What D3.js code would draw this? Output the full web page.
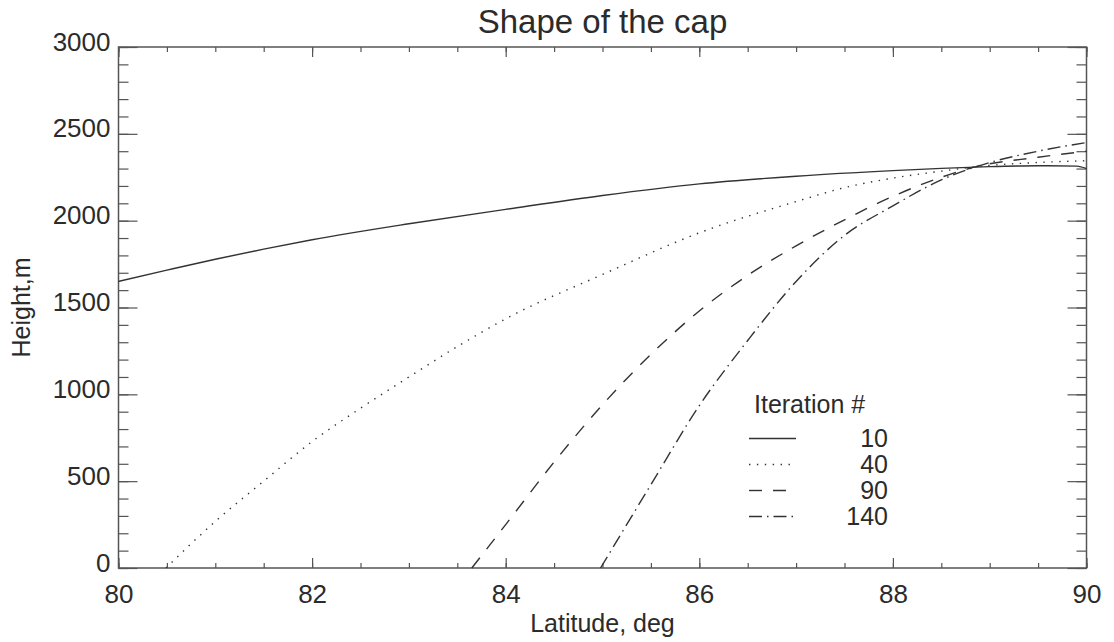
<!DOCTYPE html>
<html>
<head>
<meta charset="utf-8">
<script src="https://cdn.jsdelivr.net/npm/d3@7"></script>
<style>
  html, body { margin: 0; padding: 0; background: #fff; }
  svg { display: block; font-family: "Liberation Sans", Arial, Helvetica, sans-serif; }
</style>
</head>
<body>
<svg id="chart" width="1114" height="642"></svg>
<script>
// ---- data ----
const title = "Shape of the cap";
const xLabel = "Latitude, deg";
const yLabel = "Height,m";
const legendTitle = "Iteration #";
const iterations = ["10", "40", "90", "140"];

const lat10 = [80, 80.5, 81, 81.5, 82, 83, 84, 85, 86, 87, 88, 88.5, 89, 89.5, 89.9, 90];
const h10   = [1650, 1715, 1778, 1836, 1890, 1982, 2065, 2145, 2212, 2256, 2288, 2301, 2311, 2316, 2314, 2300];

const lat40 = [80.49, 81, 81.5, 82, 82.5, 83, 83.5, 84, 85, 86, 87, 87.5, 88, 88.5, 88.86, 89.5, 90];
const h40   = [0, 268, 500, 728, 920, 1100, 1275, 1435, 1690, 1930, 2110, 2190, 2245, 2285, 2311, 2335, 2345];

const lat90 = [83.65, 84, 84.5, 85, 85.5, 86, 86.5, 87, 87.5, 88, 88.5, 88.86, 89.5, 90];
const h90   = [0, 250, 610, 940, 1230, 1480, 1685, 1855, 2005, 2140, 2250, 2311, 2365, 2400];

const lat140 = [84.98, 85.5, 86, 86.5, 87, 87.5, 88, 88.5, 88.86, 89.5, 90];
const h140   = [0, 480, 935, 1310, 1650, 1915, 2085, 2235, 2311, 2400, 2450];

const xMajorTicks = [80, 82, 84, 86, 88, 90];
const yMajorTicks = [0, 500, 1000, 1500, 2000, 2500, 3000];

// ---- layout ----
const svg = d3.select("#chart");
const L = 118.5, R = 1086.5, T = 47, B = 568;
const x = d3.scaleLinear().domain([80, 90]).range([L, R]);
const y = d3.scaleLinear().domain([0, 3000]).range([B, T]);
const ink = "#2b2b2b";
const lineInk = "#333";

const xMinor = d3.range(80, 90.001, 0.5);
const yMinor = d3.range(0, 3000.001, 100);

// frame
svg.append("rect").attr("x", L).attr("y", T).attr("width", R - L).attr("height", B - T)
  .attr("fill", "none").attr("stroke", "#555").attr("stroke-width", 1.5);

function styleAxis(g) {
  g.select(".domain").remove();
  g.selectAll("line").attr("stroke", "#555").attr("stroke-width", 1.2);
  g.selectAll("text").attr("fill", ink).attr("font-size", 26);
}

// minor ticks
svg.append("g").attr("transform", `translate(0,${B})`)
  .call(d3.axisBottom(x).tickValues(xMinor).tickSize(-5).tickFormat(""))
  .call(styleAxis);
svg.append("g").attr("transform", `translate(0,${T})`)
  .call(d3.axisTop(x).tickValues(xMinor).tickSize(-5).tickFormat(""))
  .call(styleAxis);
svg.append("g").attr("transform", `translate(${L},0)`)
  .call(d3.axisLeft(y).tickValues(yMinor).tickSize(-10).tickFormat(""))
  .call(styleAxis);
svg.append("g").attr("transform", `translate(${R},0)`)
  .call(d3.axisRight(y).tickValues(yMinor).tickSize(-10).tickFormat(""))
  .call(styleAxis);

// major ticks
svg.append("g").attr("transform", `translate(0,${B})`)
  .call(d3.axisBottom(x).tickValues(xMajorTicks).tickSize(-10).tickPadding(17).tickFormat(d3.format("d")))
  .call(styleAxis);
svg.append("g").attr("transform", `translate(0,${T})`)
  .call(d3.axisTop(x).tickValues(xMajorTicks).tickSize(-10).tickFormat(""))
  .call(styleAxis);
svg.append("g").attr("transform", `translate(${L},0)`)
  .call(d3.axisLeft(y).tickValues(yMajorTicks).tickSize(-19).tickPadding(8).tickFormat(d3.format("d")))
  .call(styleAxis)
  .selectAll("text").attr("dy", "0.12em");
svg.append("g").attr("transform", `translate(${R},0)`)
  .call(d3.axisRight(y).tickValues(yMajorTicks).tickSize(-19).tickFormat(""))
  .call(styleAxis);

// titles
svg.append("text").attr("x", (L + R) / 2).attr("y", 33).attr("text-anchor", "middle")
  .attr("font-size", 33).attr("fill", ink).text(title);
svg.append("text").attr("x", (L + R) / 2).attr("y", 632).attr("text-anchor", "middle")
  .attr("font-size", 25).attr("fill", ink).text(xLabel);
svg.append("text").attr("transform", `translate(30,${(T + B) / 2}) rotate(-90)`)
  .attr("text-anchor", "middle").attr("font-size", 25).attr("fill", ink).text(yLabel);

// series
const dashes = [null, "1.4,6.5", "13,11", "13,5,1.5,5"];
const series = [
  { lat: lat10, h: h10 },
  { lat: lat40, h: h40 },
  { lat: lat90, h: h90 },
  { lat: lat140, h: h140 }
];
const line = d3.line().x(d => x(d[0])).y(d => y(d[1])).curve(d3.curveMonotoneX);
series.forEach((s, i) => {
  const pts = s.lat.map((v, k) => [v, s.h[k]]);
  svg.append("path").datum(pts).attr("d", line)
    .attr("fill", "none").attr("stroke", lineInk).attr("stroke-width", 1.4)
    .attr("stroke-dasharray", dashes[i]);
});

// legend
svg.append("text").attr("x", 754).attr("y", 413).attr("font-size", 25).attr("fill", ink).text(legendTitle);
const legY = [438.5, 464.5, 490.5, 516.5];
iterations.forEach((lab, i) => {
  svg.append("line").attr("x1", 749).attr("x2", 796).attr("y1", legY[i]).attr("y2", legY[i])
    .attr("stroke", lineInk).attr("stroke-width", 1.4).attr("stroke-dasharray", dashes[i]);
  svg.append("text").attr("x", 888).attr("y", legY[i] + 8).attr("text-anchor", "end")
    .attr("font-size", 25).attr("fill", ink).text(lab);
});
</script>
</body>
</html>
